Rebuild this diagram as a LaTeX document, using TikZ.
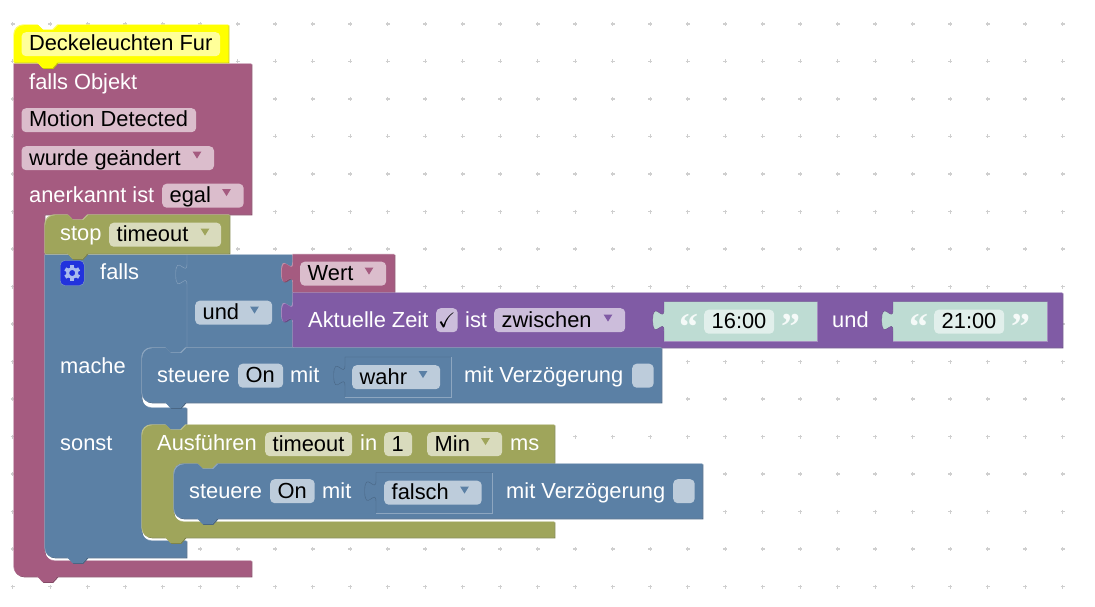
\documentclass[tikz,border=0pt]{standalone}
\usepackage{amssymb}
\usepackage{fontspec}
\setmainfont{Liberation Sans}
\newfontfamily\quotefont{Liberation Serif}[BoldFont={Liberation Serif Bold}]
\usepackage{tikz}

\definecolor{redmain}{HTML}{A55B80}
\definecolor{redlight}{HTML}{C08EA7}
\definecolor{reddark}{HTML}{844966}
\definecolor{redfield}{HTML}{DBBDCC}
\definecolor{olivemain}{HTML}{9FA55B}
\definecolor{olivelight}{HTML}{BCC08D}
\definecolor{olivedark}{HTML}{7F8449}
\definecolor{olivefield}{HTML}{D9DBBD}
\definecolor{bluemain}{HTML}{5B80A5}
\definecolor{bluelight}{HTML}{8DA6C0}
\definecolor{bluedark}{HTML}{496684}
\definecolor{bluefield}{HTML}{BDCCDB}
\definecolor{purplemain}{HTML}{805BA5}
\definecolor{purplelight}{HTML}{A68DC0}
\definecolor{purpledark}{HTML}{664984}
\definecolor{purplefield}{HTML}{CCBDDB}
\definecolor{hatmain}{HTML}{FFFF00}
\definecolor{hatlight}{HTML}{FFFF66}
\definecolor{hatdark}{HTML}{CCCC00}
\definecolor{hatfield}{HTML}{FFFF99}
\definecolor{tealmain}{HTML}{BEDCD3}
\definecolor{tealfield}{HTML}{E1EFEB}
\definecolor{quotewhite}{HTML}{F5FAF8}
\definecolor{gearblue}{HTML}{2233DD}
\definecolor{gearlight}{HTML}{A9BBEE}
\definecolor{griddot}{HTML}{CFCFCF}

\tikzset{
  lbl/.style={anchor=base west, inner sep=0pt, yshift=-0.8pt, text=white, font=\fontsize{21.85}{24}\selectfont},
  pill/.style={fill=#1, rounded corners=4.5pt, anchor=north west, inner xsep=7.5pt, inner ysep=0pt,
    text height=18.8pt, text depth=5.2pt, font=\fontsize{21.85}{24}\selectfont},
  chkbox/.style={fill=#1, rounded corners=4.5pt, anchor=north west, inner sep=0pt,
    minimum width=21.5pt, minimum height=24pt},
  quotemark/.style={anchor=base, inner sep=0pt, text=quotewhite, font=\quotefont\bfseries\fontsize{38}{38}\selectfont}
}

\newcommand{\tabup}[2]{.. controls (#1,#2-14.1) and (#1-11.3,#2+11.3) .. (#1-11.3,#2-10.6) .. controls (#1-11.3,#2-32.5) and (#1,#2-7.1) .. (#1,#2-21.2)}
\newcommand{\notchleft}[2]{-- (#1+20,#2) -- (#1+15,#2+5.5) -- (#1+5,#2+5.5) -- (#1,#2)}
\newcommand{\notchright}[2]{-- (#1,#2) -- (#1+5,#2+5) -- (#1+15,#2+5) -- (#1+20,#2)}
\newcommand{\rnd}[6]{.. controls ({#1+0.55*(#3-#1)},{#2+0.55*(#4-#2)}) and ({#5+0.55*(#3-#5)},{#6+0.55*(#4-#6)}) .. (#5,#6)}
\newcommand{\blockshape}[4]{%
  \begin{scope}[shift={(-0.7,-0.7)}]
    \fill[#3,shift={(1,1)}] #4;
    \fill[#2] #4;
    \begin{scope}
      \clip #4;
      \fill[#1,shift={(0.9,0.9)}] #4;
    \end{scope}
  \end{scope}}
\newcommand{\insetblock}[7]{%
  \fill[#5] (#1,#2) -- (#3,#2) -- (#3,#4) -- (#1,#4) -- (#1,#2+29.2) \tabup{#1}{#2+29.2} -- cycle;
  \draw[#6] (#1,#4) -- (#1,#2+29.2) \tabup{#1}{#2+29.2} -- (#1,#2) -- (#3,#2);
  \draw[#7] (#3,#2) -- (#3,#4) -- (#1,#4);}
\newcommand{\field}[6]{\node[pill=#2, minimum width=#5pt] (#1) at (#3,#4) {\makebox[\dimexpr#5pt-15pt\relax][l]{#6}};}
\newcommand{\dropmark}[3]{\fill[#3] (#1-4.3,#2-3.3) -- (#1+4.3,#2-3.3) -- (#1,#2+3.6) -- cycle;}

\begin{document}
\begin{tikzpicture}[x=1pt,y=-1pt]
\useasboundingbox (0,0) rectangle (1095,607);

\foreach \gx in {12.7,50.2,...,1063}
  \foreach \gy in {24,61.5,...,587}
    \draw[griddot,line width=1.2pt] (\gx-2,\gy) -- (\gx+2,\gy) (\gx,\gy-2) -- (\gx,\gy+2);

% outer block
\blockshape{redmain}{redlight}{reddark}{(14,64) -- (252,64) -- (252,215) \notchleft{69}{215} -- (45,215) -- (45,551) \rnd{45}{551}{45}{561}{55}{561} -- (252,561) -- (252,577) \notchleft{38}{577} -- (24,577) \rnd{24}{577}{14}{577}{14}{567} -- cycle}
\blockshape{hatmain}{hatlight}{hatdark}{(14,35) \rnd{14}{35}{14}{25}{24}{25} \notchright{38}{25} -- (229,25) -- (229,63) \notchleft{38}{63} -- (14,63) -- cycle}

\field{title}{hatfield}{21.3}{32}{198.7}{\color{black}Deckeleuchten Fur}
\node[lbl] (falls-obj) at (29,89) {falls Objekt};
\field{motion}{redfield}{21.3}{108}{174.7}{Motion Detected}
\field{changed}{redfield}{21.3}{146}{192.5}{wurde geändert}
\dropmark{197}{155}{redmain}
\node[lbl] (ack) at (29,202) {anerkannt ist};
\field{ack-val}{redfield}{162}{183.5}{81.5}{egal}
\dropmark{226.5}{192.5}{redmain}

% falls block
\blockshape{bluemain}{bluelight}{bluedark}{(45,255) -- (293,255) -- (293,348) \notchleft{166}{348} -- (152,348) \rnd{152}{348}{142}{348}{142}{358} -- (142,398) \rnd{142}{398}{142}{408}{152}{408} -- (187,408) -- (187,425) \notchleft{166}{425} -- (152,425) \rnd{152}{425}{142}{425}{142}{435} -- (142,531) \rnd{142}{531}{142}{541}{152}{541} -- (187,541) -- (187,558) \notchleft{68}{558} -- (55,558) \rnd{55}{558}{45}{558}{45}{548} -- cycle}
\draw[bluelight] (187,348) -- (187,285) \tabup{187}{285} -- (187,255);

% stop block
\blockshape{olivemain}{olivelight}{olivedark}{(45,225) \rnd{45}{225}{45}{215}{55}{215} \notchright{68}{215} -- (230,215) -- (230,254) \notchleft{68}{254} -- (45,254) -- cycle}
\node[lbl] (stop) at (60,240) {stop};
\field{stop-val}{olivefield}{109}{222.5}{112}{timeout}
\dropmark{205}{232}{olivemain}

\node[chkbox=gearblue, draw=bluelight, minimum width=24pt, minimum height=25pt] (gear-btn) at (60,260.3) {};
\draw[gearlight, line width=2.8pt] (gear-btn.center) circle (4.6);
\foreach \ang in {0,60,...,300}
  \fill[gearlight, rotate around={\ang:(gear-btn.center)}] ([shift={(-1.9,-8)}]gear-btn.center) rectangle ([shift={(1.9,-5)}]gear-btn.center);
\node[lbl] (falls) at (100,279) {falls};
\field{und-op}{bluefield}{195}{300.5}{77}{und}
\dropmark{254.5}{310}{bluemain}
\node[lbl] (mache) at (60,373) {mache};
\node[lbl] (sonst) at (60,450) {sonst};

% value blocks
\blockshape{redmain}{redlight}{reddark}{(293,254.5) -- (395,254.5) -- (395,293) -- (293,293) -- (293,283.5) \tabup{293}{283.5} -- cycle}
\field{wert}{redfield}{300}{261.5}{86}{Wert}
\dropmark{369}{271}{redmain}

\blockshape{purplemain}{purplelight}{purpledark}{(293,293) -- (1063,293) -- (1063,348) -- (293,348) -- (293,323.5) \tabup{293}{323.5} -- cycle}
\node[lbl] (zeit) at (308,327) {Aktuelle Zeit};
\node[chkbox=purplefield] (zeit-chk) at (436,308) {\fontsize{21}{21}\selectfont$\checkmark$};
\node[lbl] (ist) at (465,327) {ist};
\field{between}{purplefield}{494}{308}{131}{zwischen}
\dropmark{608}{318}{purplemain}
\insetblock{664}{301.7}{817.5}{341}{tealmain}{purpledark}{purplelight}
\node[quotemark] (q-1) at (688.5,339) {“};
\field{time-1}{tealfield}{704}{309.5}{70}{16:00}
\node[quotemark] (q-2) at (791,339) {”};
\node[lbl] (und-2) at (832,327) {und};
\insetblock{893}{301.7}{1047.5}{341}{tealmain}{purpledark}{purplelight}
\node[quotemark] (q-3) at (918.5,339) {“};
\field{time-2}{tealfield}{934}{309.5}{70}{21:00}
\node[quotemark] (q-4) at (1021,339) {”};

% first steuere
\blockshape{bluemain}{bluelight}{bluedark}{(142,358) \rnd{142}{358}{142}{348}{152}{348} \notchright{166}{348} -- (662,348) -- (662,403) \notchleft{166}{403} -- (152,403) \rnd{152}{403}{142}{403}{142}{393} -- cycle}
\node[lbl] (steuere-1) at (157,382) {steuere};
\field{on-1}{bluefield}{238}{363.5}{45}{On}
\node[lbl] (mit-1) at (290,382) {mit};
\insetblock{345}{357}{451}{397}{bluemain}{bluedark}{bluelight}
\field{wahr}{bluefield}{352}{365}{88}{wahr}
\dropmark{423}{374.5}{bluemain}
\node[lbl] (delay-1) at (464,382) {mit Verzögerung};
\node[chkbox=bluefield] (delay-chk-1) at (632,363.5) {};

% ausfuehren block
\blockshape{olivemain}{olivelight}{olivedark}{(142,435) \rnd{142}{435}{142}{425}{152}{425} \notchright{166}{425} -- (555,425) -- (555,463.5) \notchleft{198}{463.5} -- (184,463.5) \rnd{184}{463.5}{174}{463.5}{174}{473.5} -- (174,512) \rnd{174}{512}{174}{522}{184}{522} -- (555,522) -- (555,538) \notchleft{166}{538} -- (152,538) \rnd{152}{538}{142}{538}{142}{528} -- cycle}
\node[lbl] (run) at (157,450) {Ausführen};
\field{run-val}{olivefield}{265}{432}{87}{timeout}
\node[lbl] (in) at (360,450) {in};
\field{run-num}{olivefield}{384}{432}{28}{1}
\field{run-unit}{olivefield}{427}{432}{75}{Min}
\dropmark{485.5}{441.5}{olivemain}
\node[lbl] (ms) at (510,450) {ms};

% second steuere
\blockshape{bluemain}{bluelight}{bluedark}{(174,474) \rnd{174}{474}{174}{464}{184}{464} \notchright{198}{464} -- (703,464) -- (703,519) \notchleft{198}{519} -- (184,519) \rnd{184}{519}{174}{519}{174}{509} -- cycle}
\node[lbl] (steuere-2) at (189,498) {steuere};
\field{on-2}{bluefield}{270}{479}{44.5}{On}
\node[lbl] (mit-2) at (322,498) {mit};
\insetblock{376}{472.5}{492.5}{513}{bluemain}{bluedark}{bluelight}
\field{falsch}{bluefield}{384}{480.5}{97.5}{falsch}
\dropmark{464.5}{490}{bluemain}
\node[lbl] (delay-2) at (506,498) {mit Verzögerung};
\node[chkbox=bluefield] (delay-chk-2) at (673,479) {};
\end{tikzpicture}
\end{document}
